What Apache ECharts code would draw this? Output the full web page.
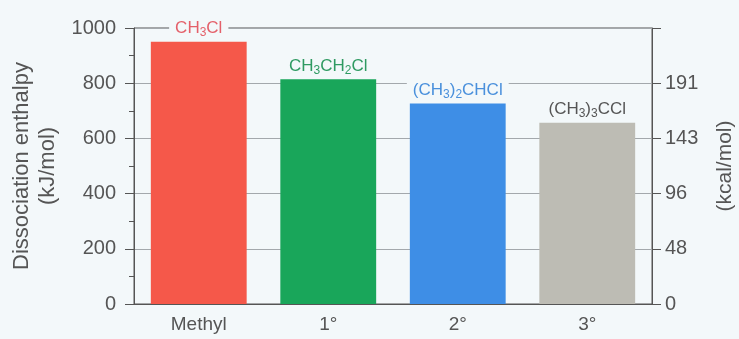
<!DOCTYPE html>
<html>
<head>
<meta charset="utf-8">
<script src="https://cdn.jsdelivr.net/npm/echarts@6/dist/echarts.min.js"></script>
<style>
  html, body { margin: 0; padding: 0; background: #f3f8fa; }
  #chart { width: 739px; height: 339px; }
</style>
</head>
<body>
<div id="chart"></div>
<script>
  // values (kJ/mol)
  const categories = ['Methyl', '1°', '2°', '3°']
  const enthalpy = [950, 814, 726, 657]
  // formula labels, rich text so the subscripts sit low
  const formulas = [
    'CH{s|3}Cl',
    'CH{s|3}CH{s|2}Cl',
    '(CH{s|3}){s|2}CHCl',
    '(CH{s|3}){s|3}CCl'
  ]
  const barColors = ['#f5584a', '#19a65a', '#3e8ee6', '#bdbcb4']
  const labelColors = ['#e4606a', '#2f9a62', '#4a90dc', '#555555']
  const kjTicks = [0, 200, 400, 600, 800, 1000]
  const kcalLabels = ['0', '48', '96', '143', '191', '']

  const bg = '#f3f8fa'
  const axisColor = '#555'
  const font = 'Liberation Sans'

  const chart = echarts.init(document.getElementById('chart'))
  chart.setOption({
    backgroundColor: bg,
    animation: false,
    grid: {
      left: 134,
      right: 87,
      top: 28,
      bottom: 35,
      outerBoundsMode: 'none',
      containLabel: false,
      show: true,
      borderColor: axisColor,
      borderWidth: 1
    },
    xAxis: {
      type: 'category',
      data: categories,
      axisLine: { lineStyle: { color: axisColor } },
      axisTick: { length: 5, lineStyle: { color: axisColor } },
      axisLabel: { color: '#555', fontSize: 19, fontFamily: font, margin: 11 }
    },
    yAxis: [{
      type: 'value',
      min: 0,
      max: 1000,
      interval: 200,
      name: 'Dissociation enthalpy\n(kJ/mol)',
      nameLocation: 'middle',
      nameRotate: 90,
      nameGap: 71,
      nameTextStyle: { color: '#555', fontSize: 22, fontFamily: font, lineHeight: 26 },
      axisLine: { show: true, lineStyle: { color: axisColor } },
      axisTick: { show: true, length: 9, lineStyle: { color: axisColor } },
      minorTick: { show: true, splitNumber: 2, length: 5, lineStyle: { color: axisColor } },
      axisLabel: {
        color: '#555', fontSize: 20, fontFamily: font, margin: 18,
        formatter: v => kjTicks.includes(v) ? String(v) : ''
      },
      splitLine: { show: true, lineStyle: { color: '#a3a8ac', width: 1 } }
    }, {
      type: 'value',
      min: 0,
      max: 1000,
      interval: 200,
      position: 'right',
      name: '(kcal/mol)',
      nameLocation: 'middle',
      nameRotate: 90,
      nameGap: 63,
      nameTextStyle: { color: '#555', fontSize: 21, fontFamily: font },
      axisLine: { show: true, lineStyle: { color: axisColor } },
      axisTick: { show: true, length: 9, lineStyle: { color: axisColor } },
      axisLabel: {
        color: '#555', fontSize: 20, fontFamily: font, margin: 13,
        formatter: v => kcalLabels[kjTicks.indexOf(v)] || ''
      },
      splitLine: { show: false }
    }],
    series: [{
      type: 'bar',
      barWidth: '74%',
      data: enthalpy.map((v, i) => ({
        value: v,
        itemStyle: { color: barColors[i] },
        label: {
          color: labelColors[i],
          rich: { s: { fontSize: 12, fontFamily: font, color: labelColors[i], padding: [9, 0, 0, 0] } }
        }
      })),
      label: {
        show: true,
        position: 'top',
        distance: 3,
        fontSize: 17,
        fontFamily: font,
        backgroundColor: bg,
        padding: [0, 6],
        formatter: p => formulas[p.dataIndex]
      }
    }]
  })
</script>
</body>
</html>
